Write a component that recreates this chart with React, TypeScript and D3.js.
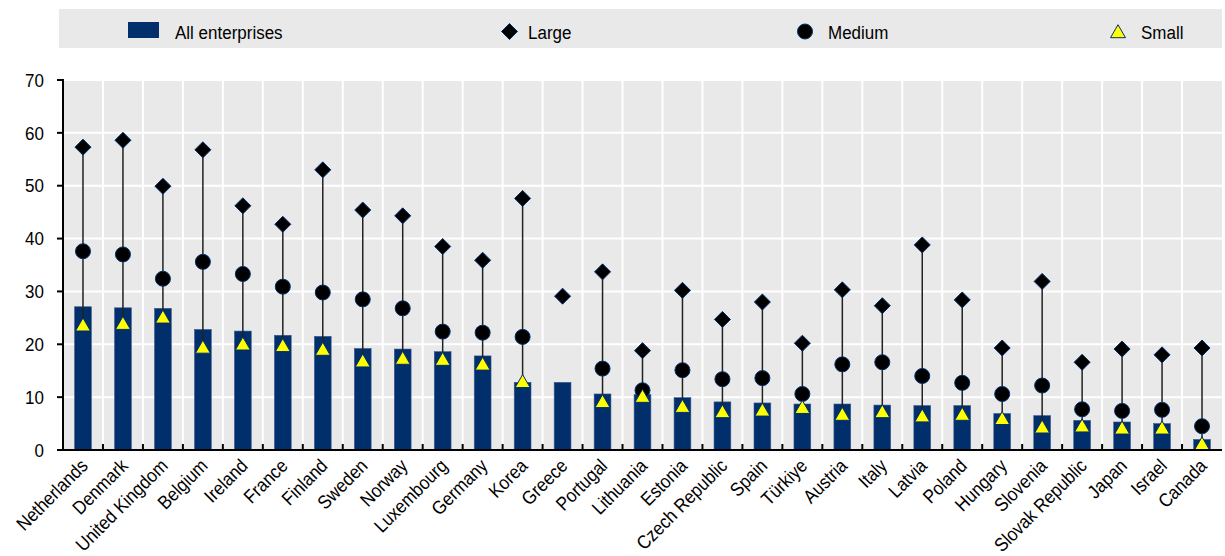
import * as d3 from 'd3';

const countries = ['Netherlands', 'Denmark', 'United Kingdom', 'Belgium', 'Ireland', 'France', 'Finland', 'Sweden', 'Norway', 'Luxembourg', 'Germany', 'Korea', 'Greece', 'Portugal', 'Lithuania', 'Estonia', 'Czech Republic', 'Spain', 'Türkiye', 'Austria', 'Italy', 'Latvia', 'Poland', 'Hungary', 'Slovenia', 'Slovak Republic', 'Japan', 'Israel', 'Canada'];
const allEnterprises = [27.1, 26.9, 26.8, 22.8, 22.5, 21.7, 21.5, 19.2, 19.1, 18.6, 17.8, 12.8, 12.8, 10.6, 10.5, 9.9, 9.1, 8.9, 8.7, 8.7, 8.5, 8.4, 8.4, 6.9, 6.5, 5.6, 5.3, 5.0, 2.0];
const large = [57.3, 58.6, 49.9, 56.8, 46.2, 42.7, 53.0, 45.4, 44.3, 38.5, 35.9, 47.6, 29.1, 33.7, 18.8, 30.2, 24.7, 28.0, 20.2, 30.3, 27.3, 38.8, 28.4, 19.3, 31.9, 16.6, 19.1, 18.0, 19.3];
const medium: (number | null)[] = [37.6, 37.0, 32.4, 35.6, 33.3, 30.9, 29.8, 28.5, 26.8, 22.4, 22.2, 21.4, null, 15.4, 11.3, 15.1, 13.4, 13.6, 10.6, 16.2, 16.6, 14.0, 12.7, 10.6, 12.2, 7.7, 7.4, 7.6, 4.5];
const small: (number | null)[] = [23.5, 23.8, 25.0, 19.3, 19.9, 19.6, 18.9, 16.7, 17.2, 17.0, 16.1, 12.8, null, 9.0, 10.0, 8.1, 7.1, 7.4, 7.9, 6.6, 7.1, 6.3, 6.6, 5.8, 4.2, 4.4, 4.0, 4.0, 1.0];
const yTicks = [0, 10, 20, 30, 40, 50, 60, 70];

const W = 1225;
const H = 556;
const left = 63;
const right = 1222;
const top = 80;
const bottom = 450;
const navy = '#002f6c';
const font = '"Liberation Sans", Arial, sans-serif';
// reference glyphs are a bit taller than they are wide
const stretch = 1.12;

function T({ x, y, rot = 0, anchor = 'start', children }: { x: number; y: number; rot?: number; anchor?: string; children: any }) {
  return (
    <text transform={`translate(${x},${y}) rotate(${rot}) scale(1,${stretch})`} fontSize={17}
      textAnchor={anchor} fill="#000">{children}</text>
  );
}

function Diamond({ x, y, r }: { x: number; y: number; r: number }) {
  return <path d={`M${x},${y - r}L${x + r},${y}L${x},${y + r}L${x - r},${y}Z`} fill="#000" stroke={navy} strokeWidth={1} />;
}

function Triangle({ x, y, s }: { x: number; y: number; s: number }) {
  const h = s * 0.866;
  return <path d={`M${x},${y - h * 0.6}L${x + s / 2},${y + h * 0.4}L${x - s / 2},${y + h * 0.4}Z`} fill="#ffff00" stroke={navy} strokeWidth={1} />;
}

export default function App() {
  const x = d3.scaleBand<string>().domain(countries).range([left, right]).paddingInner(0).paddingOuter(0);
  const y = d3.scaleLinear().domain([0, 70]).range([bottom, top]);
  const bw = x.bandwidth();
  const barW = bw * 0.42;

  return (
    <svg width={W} height={H} style={{ position: 'absolute', left: 0, top: 0 }} fontFamily={font}>
      {/* legend */}
      <rect x={59} y={9} width={1163} height={39} fill="#e9e9e9" />
      <rect x={128} y={22} width={31} height={16} fill={navy} />
      <T x={175} y={38.5}>All enterprises</T>
      <Diamond x={509.5} y={31.5} r={8} />
      <T x={528} y={38.5}>Large</T>
      <circle cx={805} cy={31.5} r={7.5} fill="#000" stroke={navy} strokeWidth={1} />
      <T x={828} y={38.5}>Medium</T>
      <Triangle x={1118} y={32.5} s={15} />
      <T x={1141} y={38.5}>Small</T>

      {/* plot background + grid */}
      <rect x={left} y={top} width={right - left} height={bottom - top} fill="#e9e9e9" />
      {yTicks.slice(1).map(t => (
        <line key={t} x1={left} x2={right} y1={y(t)} y2={y(t)} stroke="#fff" strokeWidth={2} />
      ))}
      {countries.slice(1).map(c => (
        <line key={c} x1={x(c)!} x2={x(c)!} y1={top} y2={bottom} stroke="#fff" strokeWidth={2} />
      ))}

      {/* bars */}
      {countries.map((c, i) => (
        <rect key={c} x={x(c)! + (bw - barW) / 2} y={y(allEnterprises[i])} width={barW}
          height={y(0) - y(allEnterprises[i])} fill={navy} stroke="#3a5a8c" strokeWidth={0.6} />
      ))}

      {/* stems and markers */}
      {countries.map((c, i) => {
        const cx = x(c)! + bw / 2;
        const vals = [large[i], medium[i], small[i]].filter(v => v != null) as number[];
        const lo = d3.min(vals)!;
        const hi = d3.max(vals)!;
        return (
          <g key={c}>
            {vals.length > 1 && <line x1={cx} x2={cx} y1={y(hi)} y2={y(lo)} stroke="#222" strokeWidth={1.5} />}
            <Diamond x={cx} y={y(large[i])} r={8} />
            {medium[i] != null && <circle cx={cx} cy={y(medium[i]!)} r={7.5} fill="#000" stroke={navy} strokeWidth={1} />}
            {small[i] != null && <Triangle x={cx} y={y(small[i]!)} s={15} />}
          </g>
        );
      })}

      {/* axes */}
      <line x1={left} x2={left} y1={top - 1} y2={bottom} stroke="#000" strokeWidth={2} />
      {yTicks.map(t => (
        <g key={t}>
          <line x1={left - 6} x2={left} y1={y(t)} y2={y(t)} stroke="#000" strokeWidth={2} />
          <T x={44} y={y(t) + 6.7} anchor="end">{t}</T>
        </g>
      ))}
      <line x1={left - 1} x2={right} y1={bottom} y2={bottom} stroke="#000" strokeWidth={2} />
      {countries.slice(1).map(c => (
        <line key={c} x1={x(c)!} x2={x(c)!} y1={bottom - 6} y2={bottom} stroke="#000" strokeWidth={2} />
      ))}
      {countries.map(c => (
        <T key={c} x={x(c)! + bw / 2 + 6} y={bottom + 17} rot={-45} anchor="end">{c}</T>
      ))}
    </svg>
  );
}
